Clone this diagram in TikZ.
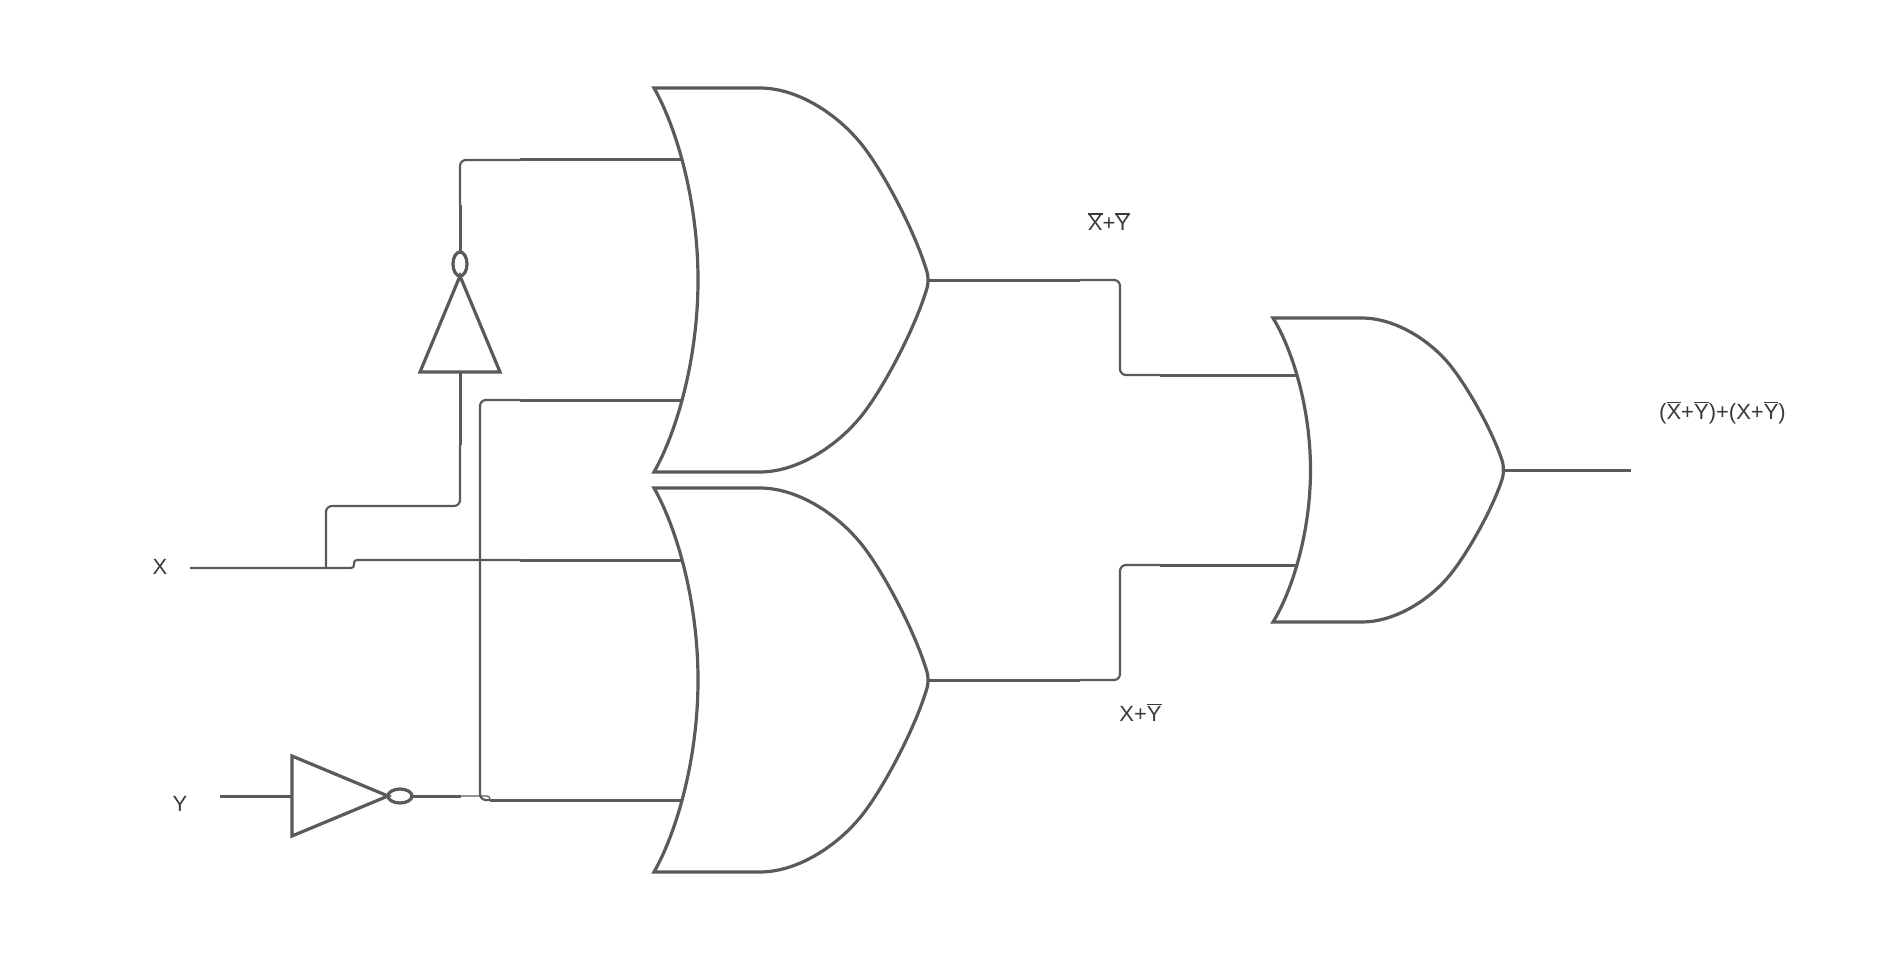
\documentclass[tikz,border=0pt]{standalone}
\usepackage{fontspec}
\setmainfont{Liberation Sans}
\definecolor{wire}{HTML}{5A5A5A}
\definecolor{ink}{HTML}{3A3A3A}
\tikzset{
  thinwire/.style={draw=wire,line width=2.2pt,rounded corners=6pt},
  thickwire/.style={draw=wire,line width=3pt},
  gatebody/.style={draw=wire,line width=3.2pt,line join=miter},
  lbl/.style={text=ink,font=\fontsize{22}{24}\selectfont,inner sep=0pt,anchor=base}
}
\newcommand{\nb}[1]{\leavevmode\setbox0\hbox{#1}\rlap{\raisebox{16.2pt}{\color{ink}\rule{\wd0}{1.3pt}}}\box0 }
% or-gate: #1 centre y, #2 left x, #3 half height, #4 bulge x, #5 straight end x, #6 tip x
\newcommand{\orgate}[6]{%
  \pgfmathsetmacro{\gw}{#6-#5}
  \pgfmathsetmacro{\gh}{#3-8}
  \pgfmathsetmacro{\gr}{2*#3/\gh}
  \pgfmathsetmacro{\gm}{#3/\gh}
  \pgfmathsetmacro{\gl}{(#2-#5)/\gw}
  \pgfmathsetmacro{\gb}{(#4-#5)/\gw}
  \pgfmathsetmacro{\gc}{\gl+0.5*(\gb-\gl)}
  \begin{scope}[shift={(#5,#1-#3)},x=\gw pt,y=-\gh pt]
  \draw[gatebody] (\gl,0) -- (0,0)
    .. controls (.21,0) and (.437,.125) .. (.587,.283)
    .. controls (.72,.42) and (.93,.78) .. (1,1)
    .. controls (1.008,{\gm-.03}) and (1.008,{\gm+.03}) .. (1,{\gr-1})
    .. controls (.93,{\gr-.78}) and (.72,{\gr-.42}) .. (.587,{\gr-.283})
    .. controls (.437,{\gr-.125}) and (.21,\gr) .. (0,\gr)
    -- (\gl,\gr)
    .. controls (\gc,{\gr-.2*\gm}) and (\gb,{\gm+.417*\gm}) .. (\gb,\gm)
    .. controls (\gb,{\gm-.417*\gm}) and (\gc,{.2*\gm}) .. cycle;
  \end{scope}}
\begin{document}
\begin{tikzpicture}[x=1pt,y=-1pt]
\useasboundingbox (0,0) rectangle (1882,960);
% gates
\orgate{280}{654}{192}{698}{760}{927}
\orgate{680}{654}{192}{698}{760}{927}
\orgate{470}{1273}{152}{1310.5}{1362}{1502.5}
% inverters
\draw[gatebody] (420,372) -- (500,372) -- (460,276) -- cycle;
\draw[gatebody] (460,264) ellipse [x radius=7,y radius=12];
\draw[gatebody] (292,756) -- (292,836) -- (388,796) -- cycle;
\draw[gatebody] (400,796) ellipse [x radius=12,y radius=7];
% coordinates
\coordinate (xin) at (190,568);
\coordinate (xstep) at (354,568);
\coordinate (xbr) at (326,568);
\coordinate (invxin) at (460,372);
\coordinate (invxout) at (460,252);
\coordinate (g1a) at (683,160);
\coordinate (g1b) at (683,400);
\coordinate (g2a) at (683,560);
\coordinate (g2b) at (683,800);
\coordinate (yin) at (220,796);
\coordinate (invyin) at (292,796);
\coordinate (invyout) at (412,796);
\coordinate (g1o) at (927,280);
\coordinate (g2o) at (927,680);
\coordinate (g3a) at (1297,375);
\coordinate (g3b) at (1297,565);
\coordinate (g3o) at (1502,470);
\coordinate (out) at (1631,470);
% X wires
\draw[thinwire,rounded corners=3pt] (xin) -- (xstep) -- (354,560) -- (520,560);
\draw[thickwire] (520,560) -- (g2a);
\draw[thinwire] (xbr) -- (326,506) -- (460,506) -- (460,445);
\draw[thickwire] (460,445) -- (invxin);
\draw[thickwire] (invxout) -- (460,205);
\draw[thinwire] (460,205) -- (460,160) -- (520,160);
\draw[thickwire] (520,160) -- (g1a);
% Y wires
\draw[thickwire] (yin) -- (invyin);
\draw[thickwire] (invyout) -- (461,796);
\draw[draw=wire,line width=1.2pt,rounded corners=3pt] (461,796) -- (490,796) -- (490,800);
\draw[thinwire] (520,400) -- (480,400) -- (480,800) -- (490,800);
\draw[thickwire] (490,800) -- (g2b);
\draw[thickwire] (520,400) -- (g1b);
% outputs
\draw[thickwire] (g1o) -- (1080,280);
\draw[thinwire] (1080,280) -- (1120,280) -- (1120,375) -- (1160,375);
\draw[thickwire] (1160,375) -- (g3a);
\draw[thickwire] (g2o) -- (1080,680);
\draw[thinwire] (1080,680) -- (1120,680) -- (1120,565) -- (1160,565);
\draw[thickwire] (1160,565) -- (g3b);
\draw[thickwire] (g3o) -- (out);
% labels
\node[lbl] (lx) at (160,574) {X};
\node[lbl] (ly) at (180,811) {Y};
\node[lbl] (l1) at (1109,231) {\nb{X}+\nb{Y}};
\node[lbl] (l2) at (1140.5,721) {X+\nb{Y}};
\node[lbl] (l3) at (1722.5,419) {(\nb{X}+\nb{Y})+(X+\nb{Y})};
\end{tikzpicture}
\end{document}
